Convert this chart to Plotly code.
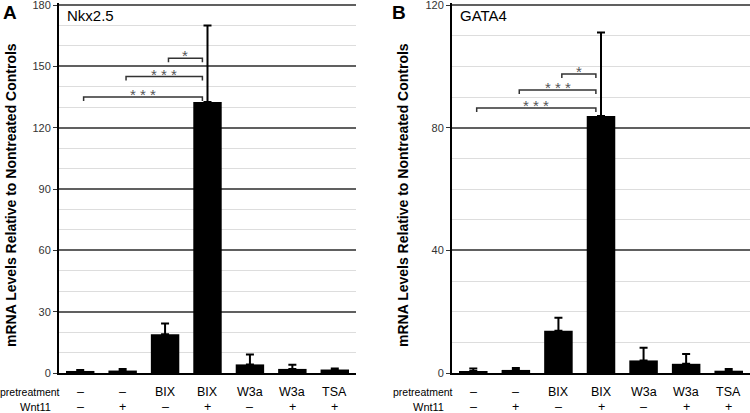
import plotly.graph_objects as go

# ---------------- data ----------------
pretreatment = ["–", "–", "BIX", "BIX", "W3a", "W3a", "TSA"]
wnt11 = ["–", "+", "–", "+", "–", "+", "+"]

nkx_values = [1.0, 1.2, 19.0, 132.5, 4.2, 2.0, 1.7]
nkx_errors = [0.5, 0.8, 5.2, 37.5, 4.8, 2.0, 0.5]
nkx_ticks = [0, 30, 60, 90, 120, 150, 180]
# brackets: (from category, to category, y value, label)
nkx_brackets = [(0, 3, 135, "* * *"), (1, 3, 145, "* * *"), (2, 3, 154, "*")]

gata_values = [0.65, 1.0, 13.8, 83.8, 4.1, 3.0, 0.75]
gata_errors = [0.8, 0.6, 4.2, 27.2, 4.1, 3.2, 0.55]
gata_ticks = [0, 40, 80, 120]
gata_brackets = [(0, 3, 86.4, "* * *"), (1, 3, 92.3, "* * *"), (2, 3, 97.5, "*")]

W, H = 750, 413
ARIAL = "Liberation Sans, Arial"

Y0_PX, YTOP_PX, PAD_PX = 373, 5, 2       # pixel rows of value 0 and of the top tick
y_dom = [(H - Y0_PX) / H, (H - YTOP_PX + PAD_PX) / H]
scale_px = Y0_PX - YTOP_PX

panels = [
    dict(vals=nkx_values, errs=nkx_errors, ticks=nkx_ticks, brackets=nkx_brackets,
         minor=10, xdom=[59 / W, 356 / W], name="Nkx2.5", letter="A",
         letter_x=2 / W, ytitle_x=11 / W),
    dict(vals=gata_values, errs=gata_errors, ticks=gata_ticks, brackets=gata_brackets,
         minor=10, xdom=[452 / W, 1.0], name="GATA4", letter="B",
         letter_x=391 / W, ytitle_x=403 / W),
]

fig = go.Figure()
cats = list(range(len(pretreatment)))
annotations = []

for i, p in enumerate(panels):
    sfx = "" if i == 0 else str(i + 1)
    xa, ya = "x" + sfx, "y" + sfx
    ymax = p["ticks"][-1]
    unit_per_px = ymax / scale_px
    fig.add_trace(go.Bar(
        x=cats, y=p["vals"], xaxis=xa, yaxis=ya,
        marker=dict(color="black", line=dict(width=0)),
        width=0.67,
        error_y=dict(type="data", array=p["errs"], arrayminus=[0] * len(p["vals"]),
                     symmetric=False, color="black", thickness=2, width=4),
        showlegend=False,
    ))
    tick_units = 4 * unit_per_px
    for (a, b, yv, lab) in p["brackets"]:
        xl, xr = a + 0.08, b - 0.12
        fig.add_trace(go.Scatter(
            x=[xl, xl, xr, xr], y=[yv - tick_units, yv, yv, yv - tick_units],
            xaxis=xa, yaxis=ya, mode="lines",
            line=dict(color="#333333", width=1.5), showlegend=False, hoverinfo="skip",
        ))
        annotations.append(dict(
            x=(xl + xr) / 2, y=yv, xref=xa, yref=ya, text=lab, showarrow=False,
            xanchor="center", yanchor="bottom", yshift=-7, borderpad=0,
            font=dict(family=ARIAL, size=15, color="#555555"),
        ))
    axkw = dict(domain=p["xdom"], range=[-0.5, 6.5], showticklabels=False, ticks="",
                showgrid=False, zeroline=False, showline=True, linecolor="black",
                linewidth=2, anchor=ya, fixedrange=True, automargin=False)
    aykw = dict(domain=y_dom, range=[0, ymax + PAD_PX * unit_per_px], tickvals=p["ticks"],
                ticks="outside", ticklen=4, tickcolor="#333333", tickwidth=1,
                tickfont=dict(family=ARIAL, size=11, color="#333333"),
                ticklabeloverflow="allow",
                showgrid=True, gridcolor="#606060", gridwidth=1.5,
                minor=dict(dtick=p["minor"], showgrid=True, gridcolor="#dddddd",
                           gridwidth=1, ticks=""),
                zeroline=False, showline=True, linecolor="black", linewidth=2,
                anchor=xa, fixedrange=True, automargin=False)
    fig.update_layout(**{"xaxis" + sfx: axkw, "yaxis" + sfx: aykw})

    # panel title
    annotations.append(dict(x=p["xdom"][0] + 7 / W, y=(H - 15) / H, xref="paper",
                            yref="paper", text=p["name"], showarrow=False,
                            xanchor="left", yanchor="middle", borderpad=0,
                            font=dict(family=ARIAL, size=15, color="black")))
    # panel letter
    annotations.append(dict(x=p["letter_x"], y=(H - 13) / H, xref="paper",
                            yref="paper", text="<b>" + p["letter"] + "</b>",
                            showarrow=False, xanchor="left", yanchor="middle",
                            borderpad=0,
                            font=dict(family=ARIAL, size=19, color="black")))
    # y-axis title
    annotations.append(dict(x=p["ytitle_x"], y=(H - 195) / H, xref="paper",
                            yref="paper", text="<b>mRNA Levels Relative to Nontreated Controls</b>",
                            showarrow=False, textangle=-90, xanchor="center",
                            yanchor="middle", borderpad=0,
                            font=dict(family=ARIAL, size=14, color="black")))
    # table rows
    annotations.append(dict(x=p["xdom"][0] + 2 / W, y=(H - 391.5) / H, xref="paper",
                            yref="paper", text="pretreatment", showarrow=False,
                            xanchor="right", yanchor="middle", borderpad=0,
                            font=dict(family=ARIAL, size=10.5, color="black")))
    annotations.append(dict(x=p["xdom"][0] - 7 / W, y=(H - 406.5) / H, xref="paper",
                            yref="paper", text="Wnt11", showarrow=False,
                            xanchor="right", yanchor="middle", borderpad=0,
                            font=dict(family=ARIAL, size=11, color="black")))
    for c in cats:
        annotations.append(dict(x=c, y=(H - 391.5) / H, xref=xa, yref="paper",
                                text=pretreatment[c], showarrow=False,
                                xanchor="center", yanchor="middle", borderpad=0,
                                font=dict(family=ARIAL, size=12.5, color="black")))
        annotations.append(dict(x=c, y=(H - 406.5) / H, xref=xa, yref="paper",
                                text=wnt11[c], showarrow=False,
                                xanchor="center", yanchor="middle", borderpad=0,
                                font=dict(family=ARIAL, size=12.5, color="black")))

fig.update_layout(
    template="none",
    width=W, height=H, margin=dict(l=0, r=0, t=0, b=0, autoexpand=False),
    paper_bgcolor="white", plot_bgcolor="white",
    bargap=0.33, annotations=annotations, showlegend=False,
    font=dict(family=ARIAL, color="black"),
)

fig.write_html("out.html", config={"displayModeBar": False},
               post_script="document.body.style.margin='0';document.body.style.overflow='hidden';")
